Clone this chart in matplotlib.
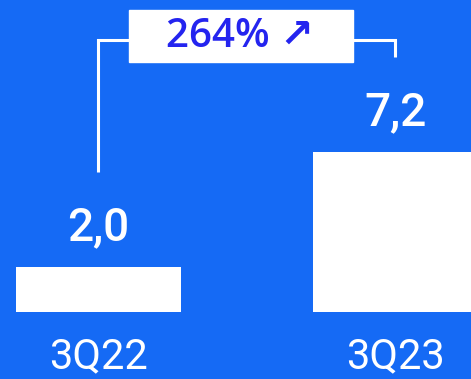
import matplotlib
matplotlib.use("Agg")
import matplotlib.pyplot as plt
from matplotlib.patches import Rectangle

categories = ["3Q22", "3Q23"]
values = [2.0, 7.2]
value_labels = ["2,0", "7,2"]
growth_label = "264% \u2197"

BG = "#156af5"
TXT_BLUE = "#2424ef"

fig = plt.figure(figsize=(4.71, 3.79), dpi=100, facecolor=BG)
ax = fig.add_axes([0, 0, 1, 1])
ax.set_facecolor(BG)

x = range(len(categories))
ax.bar(x, values, width=0.555, color="white")

for i, (v, lab) in enumerate(zip(values, value_labels)):
    ax.text(i, v + 1.8, lab, ha="center", va="center", color="white",
            fontsize=33, family="Roboto", fontweight="medium")
    ax.text(i, -2.05, categories[i], ha="center", va="center", color="white",
            fontsize=30, family="Roboto", fontweight="normal")

# bracket connecting the two bars
gap = 4.3
top = 12.3
ax.plot([0, 0, 1, 1], [values[0] + gap, top, top, values[1] + gap],
        color="white", lw=2.2, solid_joinstyle="miter", solid_capstyle="butt")

# growth box
cx, cy = 0.48, 12.45
bw, bh = 0.757, 2.35
ax.add_patch(Rectangle((cx - bw / 2, cy - bh / 2), bw, bh, color="white", zorder=3))
ax.text(cx - 0.005, cy - 0.05, growth_label, ha="center", va="center", color=TXT_BLUE,
        fontsize=29, family=["Open Sans", "DejaVu Sans"], fontweight="semibold", zorder=4)

ax.set_xlim(-0.3316, 1.2542)
ax.set_ylim(-3.054, 14.095)
ax.set_axis_off()

fig.savefig("out.png", dpi=100, facecolor=BG)
